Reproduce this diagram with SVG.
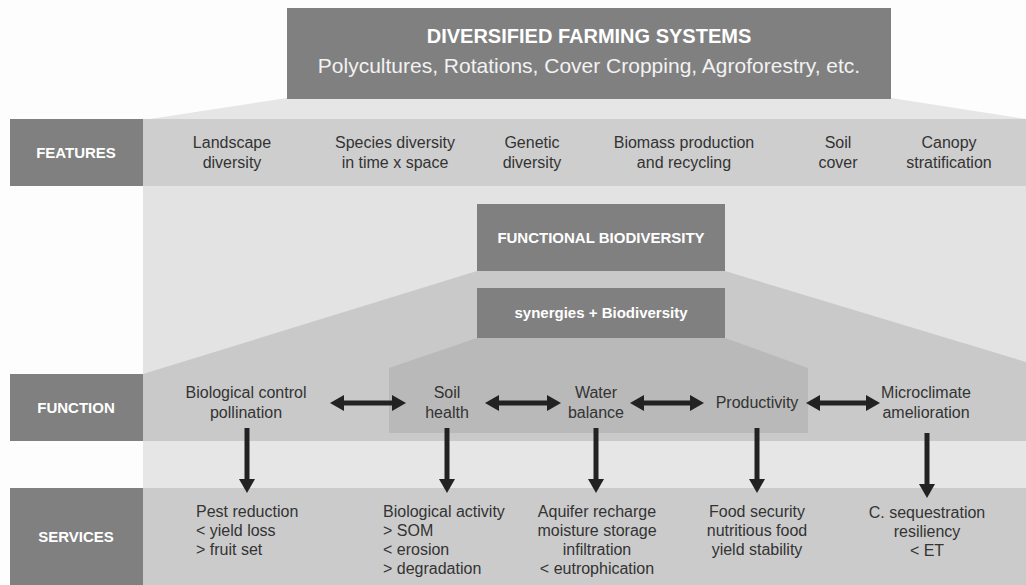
<svg xmlns="http://www.w3.org/2000/svg" width="1026" height="585" viewBox="0 0 1026 585">
<style>
.dark{fill:#808080}
.lbl{font-family:"Liberation Sans",Arial,sans-serif;font-weight:bold;font-size:15px;fill:#fff;text-anchor:middle}
.t{font-family:"Liberation Sans",Arial,sans-serif;font-size:16px;fill:#333;text-anchor:middle}
.tl{font-family:"Liberation Sans",Arial,sans-serif;font-size:16px;fill:#333}
.conn{stroke:#222;stroke-width:5;fill:none}
</style>
<defs>
<marker id="ah" markerUnits="userSpaceOnUse" markerWidth="14" markerHeight="16" refX="2" refY="8" orient="auto-start-reverse">
<path d="M0,0 L14,8 L0,16 Z" fill="#222"/>
</marker>
</defs>
<rect width="1026" height="585" fill="#fdfdfd"/>
<!-- backgrounds -->
<polygon points="287,98 891,98 1026,119 150,119" fill="#e6e6e6"/>
<rect x="143" y="186" width="883" height="399" fill="#e3e3e3"/>
<polygon points="477,271 725,271 1026,362 1026,374 143,374" fill="#c9c9c9"/>
<rect x="143" y="374" width="883" height="67" fill="#c9c9c9"/>
<polygon points="477,338 725,338 808,368 808,433 389,433 389,368" fill="#b9b9b9"/>
<rect x="143" y="441" width="883" height="47" fill="#e6e6e6"/>
<rect x="143" y="488" width="883" height="97" fill="#cbcbcb"/>
<rect x="143" y="119" width="883" height="67" fill="#cecece"/>

<g id="top">
<rect class="dark" x="287" y="8" width="604" height="91"/>
<text class="lbl" x="589" y="43" style="font-size:20px">DIVERSIFIED FARMING SYSTEMS</text>
<text x="589" y="73" style="font-family:'Liberation Sans',Arial,sans-serif;font-size:21px;fill:#f2f2f2;text-anchor:middle">Polycultures, Rotations, Cover Cropping, Agroforestry, etc.</text>
</g>

<g id="features-label"><rect class="dark" x="10" y="119" width="133" height="67"/><text class="lbl" x="76" y="158">FEATURES</text></g>
<g id="function-label"><rect class="dark" x="10" y="374" width="133" height="67"/><text class="lbl" x="76" y="413">FUNCTION</text></g>
<g id="services-label"><rect class="dark" x="10" y="488" width="133" height="97"/><text class="lbl" x="76" y="542">SERVICES</text></g>

<g id="feat-landscape"><text class="t" x="232" y="148">Landscape</text><text class="t" x="232" y="168">diversity</text></g>
<g id="feat-species"><text class="t" x="395" y="148">Species diversity</text><text class="t" x="395" y="168">in time x space</text></g>
<g id="feat-genetic"><text class="t" x="532" y="148">Genetic</text><text class="t" x="532" y="168">diversity</text></g>
<g id="feat-biomass"><text class="t" x="684" y="148">Biomass production</text><text class="t" x="684" y="168">and recycling</text></g>
<g id="feat-soil"><text class="t" x="838" y="148">Soil</text><text class="t" x="838" y="168">cover</text></g>
<g id="feat-canopy"><text class="t" x="949" y="148">Canopy</text><text class="t" x="949" y="168">stratification</text></g>

<g id="functional"><rect class="dark" x="477" y="204" width="248" height="67"/><text class="lbl" x="601" y="243">FUNCTIONAL BIODIVERSITY</text></g>
<g id="synergies"><rect class="dark" x="477" y="288" width="248" height="50"/><text class="lbl" x="601" y="318">synergies + Biodiversity</text></g>

<g id="fn-bio"><text class="t" x="246" y="398">Biological control</text><text class="t" x="246" y="418">pollination</text></g>
<g id="fn-soil"><text class="t" x="447" y="398">Soil</text><text class="t" x="447" y="418">health</text></g>
<g id="fn-water"><text class="t" x="596" y="398">Water</text><text class="t" x="596" y="418">balance</text></g>
<g id="fn-prod"><text class="t" x="757" y="408">Productivity</text></g>
<g id="fn-micro"><text class="t" x="926" y="398">Microclimate</text><text class="t" x="926" y="418">amelioration</text></g>

<g id="sv-pest"><text class="tl" x="196" y="517">Pest reduction</text><text class="tl" x="196" y="536">&lt; yield loss</text><text class="tl" x="196" y="555">&gt; fruit set</text></g>
<g id="sv-bio"><text class="tl" x="383" y="517">Biological activity</text><text class="tl" x="383" y="536">&gt; SOM</text><text class="tl" x="383" y="555">&lt; erosion</text><text class="tl" x="383" y="574">&gt; degradation</text></g>
<g id="sv-aquifer"><text class="t" x="597" y="517">Aquifer recharge</text><text class="t" x="597" y="536">moisture storage</text><text class="t" x="597" y="555">infiltration</text><text class="t" x="597" y="574">&lt; eutrophication</text></g>
<g id="sv-food"><text class="t" x="757" y="517">Food security</text><text class="t" x="757" y="536">nutritious food</text><text class="t" x="757" y="555">yield stability</text></g>
<g id="sv-carbon"><text class="t" x="927" y="518">C. sequestration</text><text class="t" x="927" y="537">resiliency</text><text class="t" x="927" y="556">&lt; ET</text></g>

<g id="connectors">
<line class="conn" x1="342" y1="403" x2="394" y2="403" marker-start="url(#ah)" marker-end="url(#ah)"/>
<line class="conn" x1="497" y1="403" x2="549" y2="403" marker-start="url(#ah)" marker-end="url(#ah)"/>
<line class="conn" x1="642" y1="403" x2="692" y2="403" marker-start="url(#ah)" marker-end="url(#ah)"/>
<line class="conn" x1="818" y1="403" x2="868" y2="403" marker-start="url(#ah)" marker-end="url(#ah)"/>
<line class="conn" x1="247" y1="428" x2="247" y2="481" marker-end="url(#ah)"/>
<line class="conn" x1="447" y1="428" x2="447" y2="481" marker-end="url(#ah)"/>
<line class="conn" x1="596" y1="428" x2="596" y2="481" marker-end="url(#ah)"/>
<line class="conn" x1="757" y1="428" x2="757" y2="481" marker-end="url(#ah)"/>
<line class="conn" x1="927" y1="433" x2="927" y2="486" marker-end="url(#ah)"/>
</g>
</svg>
